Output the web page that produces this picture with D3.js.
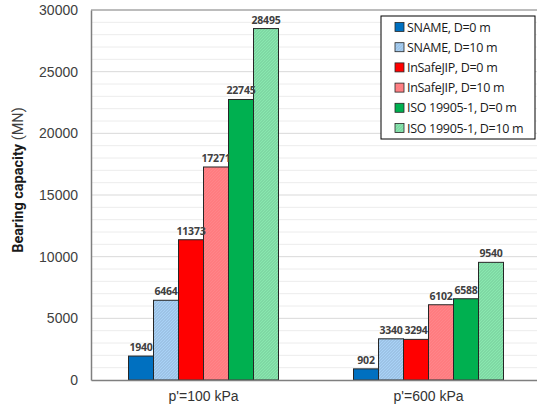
<!DOCTYPE html>
<html><head><meta charset="utf-8">
<script src="https://cdn.jsdelivr.net/npm/d3@7/dist/d3.min.js"></script>
<style>body{margin:0;background:#fff}svg{display:block}</style>
</head><body>
<script>
const categories = ["p'=100 kPa", "p'=600 kPa"];
const seriesNames = ["SNAME, D=0 m","SNAME, D=10 m","InSafeJIP, D=0 m","InSafeJIP, D=10 m","ISO 19905-1, D=0 m","ISO 19905-1, D=10 m"];
const values100 = [1940, 6464, 11373, 17271, 22745, 28495];
const values600 = [902, 3340, 3294, 6102, 6588, 9540];
const yTicks = [0, 5000, 10000, 15000, 20000, 25000, 30000];
const colors = ["#0070c0","#9dc3e6","#ff0000","#ff7c80","#00b050","#7fd8a4"];
const hatched = [false,true,false,true,false,true];

const W = 537, H = 409;
const m = {l: 91, t: 10, r: -4, b: 29};
const svg = d3.select("body").append("svg").attr("width", W).attr("height", H);
const defs = svg.append("defs");
colors.forEach((c, i) => {
  if (!hatched[i]) return;
  const p = defs.append("pattern").attr("id", "h" + i).attr("patternUnits", "userSpaceOnUse")
    .attr("width", 3).attr("height", 3);
  p.append("rect").attr("width", 3).attr("height", 3).attr("fill", c);
  p.append("path").attr("d", "M0,3 L3,0").attr("stroke", d3.color(c).brighter(0.25)).attr("stroke-width", 0.8);
});

const x0 = d3.scaleBand().domain(categories).range([m.l, W - m.r]).padding(0);
const x1 = d3.scaleBand().domain(seriesNames).range([0, x0.bandwidth()]).paddingInner(0).paddingOuter(1.5);
const y = d3.scaleLinear().domain([0, 30000]).range([H - m.b, m.t]);

// grid
const g = svg.append("g");
d3.range(1000, 30001, 1000).forEach(v => {
  g.append("line").attr("x1", m.l).attr("x2", W).attr("y1", y(v)).attr("y2", y(v))
    .attr("stroke", v % 5000 === 0 ? "#d9d9d9" : "#ececec").attr("stroke-width", 1);
});

// plot border
svg.append("line").attr("x1", m.l).attr("x2", W).attr("y1", y(30000)).attr("y2", y(30000)).attr("stroke", "#8c8c8c").attr("stroke-width", 1);

// bars
const data = categories.map((c, ci) => ({cat: c, vals: ci === 0 ? values100 : values600}));
const groups = svg.selectAll("g.grp").data(data).join("g").attr("class", "grp")
  .attr("transform", d => `translate(${x0(d.cat)},0)`);
groups.selectAll("rect").data(d => d.vals.map((v, i) => ({v, i})))
  .join("rect")
  .attr("x", d => x1(seriesNames[d.i]))
  .attr("width", x1.bandwidth())
  .attr("y", d => y(d.v))
  .attr("height", d => y(0) - y(d.v))
  .attr("fill", d => hatched[d.i] ? `url(#h${d.i})` : colors[d.i])
  .attr("stroke", "#262626").attr("stroke-width", 1);
groups.selectAll("text").data(d => d.vals.map((v, i) => ({v, i})))
  .join("text")
  .attr("x", d => x1(seriesNames[d.i]) + x1.bandwidth() / 2)
  .attr("y", d => y(d.v) - 5)
  .attr("text-anchor", "middle")
  .attr("font-family", "'Open Sans', 'Liberation Sans', sans-serif")
  .attr("font-size", 10.5).attr("font-weight", "bold").attr("fill", "#404040")
  .attr("letter-spacing", -0.2)
  .text(d => d.v);

// y axis
const yAxis = svg.append("g").attr("transform", `translate(${m.l},0)`)
  .call(d3.axisLeft(y).tickValues(yTicks).tickFormat(d3.format("d")).tickSize(0).tickPadding(13));
yAxis.select(".domain").attr("stroke", "#7f7f7f").attr("stroke-width", 1.5);
yAxis.selectAll("text").attr("font-family", "'Liberation Sans', Arial, sans-serif").attr("font-size", 14).attr("fill", "#404040");

// x axis
const xAxis = svg.append("g").attr("transform", `translate(0,${y(0)})`)
  .call(d3.axisBottom(x0).tickSize(0).tickPadding(11));
xAxis.select(".domain").attr("stroke", "#7f7f7f").attr("stroke-width", 1.5);
xAxis.selectAll("text").attr("font-family", "'Liberation Sans', Arial, sans-serif").attr("font-size", 14).attr("fill", "#333");

// y title
const yt = svg.append("text").attr("transform", `translate(23,180) rotate(-90)`)
  .attr("text-anchor", "middle").attr("font-family", "Roboto, 'Open Sans', sans-serif")
  .attr("font-size", 14.5).attr("fill", "#1a1a1a");
yt.append("tspan").attr("font-weight", "bold").text("Bearing capacity");
yt.append("tspan").attr("fill", "#404040").text(" (MN)");

// legend
const lg = svg.append("g").attr("transform", "translate(381,16)");
lg.append("rect").attr("width", 154).attr("height", 123).attr("fill", "#fff").attr("stroke", "#000").attr("stroke-width", 1);
seriesNames.forEach((s, i) => {
  const row = lg.append("g").attr("transform", `translate(0,${11 + i * 20.2})`);
  row.append("rect").attr("x", 14).attr("y", -4.5).attr("width", 9).attr("height", 9)
    .attr("fill", hatched[i] ? `url(#h${i})` : colors[i]).attr("stroke", "#262626").attr("stroke-width", 0.8);
  row.append("text").attr("x", 26).attr("y", 4.5)
    .attr("font-family", "'Open Sans', 'Liberation Sans', sans-serif").attr("font-size", 12.5).attr("fill", "#1a1a1a")
    .attr("letter-spacing", -0.3)
    .text(s);
});
</script>
</body></html>
